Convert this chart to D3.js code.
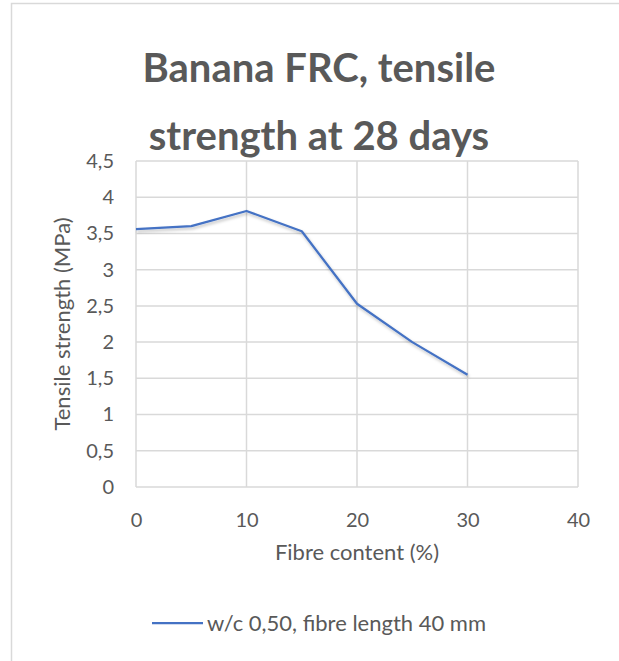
<!DOCTYPE html>
<html>
<head>
<meta charset="utf-8">
<script src="https://cdn.jsdelivr.net/npm/d3@7"></script>
<style>
  body { margin: 0; background: #fff; }
  text { font-family: Lato, "Open Sans", sans-serif; fill: #595959; }
</style>
</head>
<body>
<div id="chart"></div>
<script>
// data
var fibreContent = [0, 5, 10, 15, 20, 25, 30];
var tensileStrength = [3.56, 3.6, 3.81, 3.53, 2.53, 2.0, 1.55];
var xTicks = [0, 10, 20, 30, 40];
var yTicks = [0, 0.5, 1, 1.5, 2, 2.5, 3, 3.5, 4, 4.5];
var titleLines = ["Banana FRC, tensile", "strength at 28 days"];
var seriesName = "w/c 0,50, fibre length 40 mm";

var width = 619, height = 661;
var plot = { left: 136, right: 578, top: 161, bottom: 487 };

var svg = d3.select("#chart").append("svg")
    .attr("width", width)
    .attr("height", height);

var defs = svg.append("defs");
var shadow = defs.append("filter").attr("id", "shadow")
    .attr("x", "-10%").attr("y", "-10%").attr("width", "120%").attr("height", "130%");
shadow.append("feDropShadow")
    .attr("dx", 1).attr("dy", 2).attr("stdDeviation", 1.5)
    .attr("flood-color", "#000").attr("flood-opacity", 0.25);

// chart area border (only top and left visible in the crop)
svg.append("rect")
    .attr("x", 11.5).attr("y", 3.5)
    .attr("width", width + 20).attr("height", height + 20)
    .style("fill", "#fff")
    .style("stroke", "#d9d9d9")
    .style("stroke-width", 1.5);

var x = d3.scaleLinear().domain([0, 40]).range([plot.left, plot.right]);
var y = d3.scaleLinear().domain([0, 4.5]).range([plot.bottom, plot.top]);

// gridlines
svg.append("g").selectAll("line.h")
    .data(yTicks).enter().append("line")
    .attr("x1", plot.left).attr("x2", plot.right)
    .attr("y1", function(d) { return y(d); })
    .attr("y2", function(d) { return y(d); })
    .style("stroke", "#d9d9d9").style("stroke-width", 1.5);

svg.append("g").selectAll("line.v")
    .data(xTicks).enter().append("line")
    .attr("y1", plot.top).attr("y2", plot.bottom)
    .attr("x1", function(d) { return x(d); })
    .attr("x2", function(d) { return x(d); })
    .style("stroke", "#d9d9d9").style("stroke-width", 1.5);

// axes (labels only, Excel style)
var fmt = function(d) { return String(d).replace(".", ","); };

var yAxis = svg.append("g")
    .attr("transform", "translate(" + (plot.left - 22) + ",0)")
    .call(d3.axisLeft(y).tickValues(yTicks).tickFormat(fmt).tickSize(0).tickPadding(0));
yAxis.select(".domain").remove();
yAxis.selectAll("text")
    .style("font-size", "20px")
    .style("fill", "#595959")
    .style("font-family", "Lato, 'Open Sans', sans-serif");

var xAxis = svg.append("g")
    .attr("transform", "translate(0," + (plot.bottom + 26) + ")")
    .call(d3.axisBottom(x).tickValues(xTicks).tickFormat(fmt).tickSize(0).tickPadding(0));
xAxis.select(".domain").remove();
xAxis.selectAll("text")
    .style("font-size", "20px")
    .style("fill", "#595959")
    .style("font-family", "Lato, 'Open Sans', sans-serif");

// series line
var line = d3.line()
    .x(function(d, i) { return x(fibreContent[i]); })
    .y(function(d) { return y(d); });

svg.append("path")
    .datum(tensileStrength)
    .attr("d", line)
    .attr("filter", "url(#shadow)")
    .style("fill", "none")
    .style("stroke", "#4472c4")
    .style("stroke-width", 2.25)
    .style("stroke-linejoin", "round");

// title
svg.append("g").selectAll("text")
    .data(titleLines).enter().append("text")
    .attr("x", 319)
    .attr("y", function(d, i) { return 82 + i * 68; })
    .attr("text-anchor", "middle")
    .style("font-size", "40px")
    .style("font-weight", "bold")
    .text(function(d) { return d; });

// axis titles
svg.append("text")
    .attr("x", (plot.left + plot.right) / 2)
    .attr("y", 560)
    .attr("text-anchor", "middle")
    .style("font-size", "22px")
    .text("Fibre content (%)");

svg.append("text")
    .attr("transform", "translate(70," + (plot.top + plot.bottom) / 2 + ") rotate(-90)")
    .attr("text-anchor", "middle")
    .style("font-size", "22px")
    .text("Tensile strength (MPa)");

// legend
var legend = svg.append("g").attr("transform", "translate(152,623)");
legend.append("line")
    .attr("x1", 0).attr("x2", 51)
    .style("stroke", "#4472c4").style("stroke-width", 2.25);
legend.append("text")
    .attr("x", 55).attr("dy", "0.35em")
    .style("font-size", "22px")
    .text(seriesName);
</script>
</body>
</html>
